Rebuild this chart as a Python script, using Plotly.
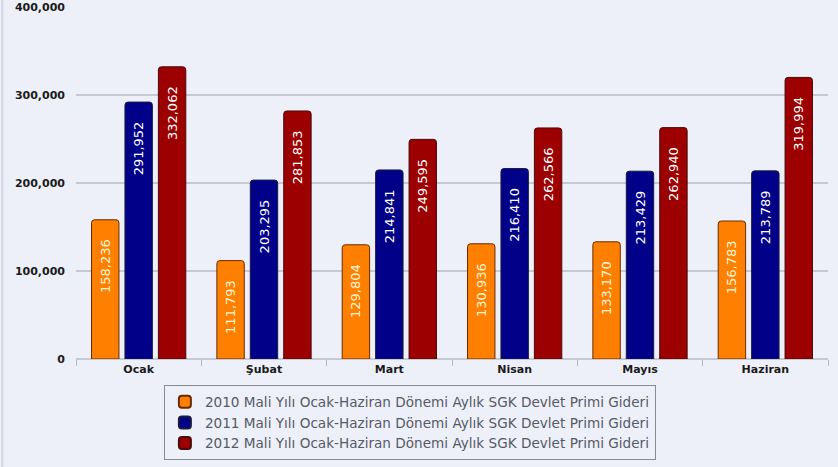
import plotly.graph_objects as go

categories = ["Ocak", "Şubat", "Mart", "Nisan", "Mayıs", "Haziran"]
series_names = [
    "2010 Mali Yılı Ocak-Haziran Dönemi Aylık SGK Devlet Primi Gideri",
    "2011 Mali Yılı Ocak-Haziran Dönemi Aylık SGK Devlet Primi Gideri",
    "2012 Mali Yılı Ocak-Haziran Dönemi Aylık SGK Devlet Primi Gideri",
]
values_2010 = [158236, 111793, 129804, 130936, 133170, 156783]
values_2011 = [291952, 203295, 214841, 216410, 213429, 213789]
values_2012 = [332062, 281853, 249595, 262566, 262940, 319994]
y_ticks = [0, 100000, 200000, 300000, 400000]

colors = ["#ff8000", "#000088", "#9c0000"]
line_colors = ["#6a2a00", "#1a1a40", "#4a0a0a"]
text_colors = ["#fff4d6", "#ffffff", "#ffffff"]

PAD = "\u00a0" * 4

fig = go.Figure()
for name, vals, c, lc, tc in zip(series_names, [values_2010, values_2011, values_2012],
                                 colors, line_colors, text_colors):
    fig.add_trace(go.Bar(
        x=categories, y=vals, name=name,
        marker=dict(color=c, line=dict(color=lc, width=1), cornerradius=3),
        text=[f"{v:,}{PAD}" for v in vals],
        textposition="inside", insidetextanchor="end", textangle=-90,
        textfont=dict(family="DejaVu Sans", size=13, color=tc),
        cliponaxis=False,
    ))

fig.update_layout(
    width=838, height=467,
    margin=dict(l=76, r=10, t=7, b=108, autoexpand=False),
    paper_bgcolor="#eef0f9", plot_bgcolor="#eef0f9",
    barmode="group", bargap=0.2, bargroupgap=0.18,
    uniformtext=dict(minsize=13, mode="show"),
    showlegend=True,
    legend=dict(
        orientation="v", x=0.444, xanchor="center", y=-0.075, yanchor="top",
        bgcolor="rgba(0,0,0,0)", bordercolor="#8a8a95", borderwidth=1,
        font=dict(family="DejaVu Sans", size=13.6, color="#555a66"),
        itemsizing="constant", tracegroupgap=0,
    ),
    font=dict(family="DejaVu Sans"),
    shapes=[dict(type="line", xref="paper", yref="paper",
                 x0=-0.098, x1=-0.098, y0=-0.31, y1=1.03,
                 line=dict(color="#d2d4de", width=2))],
)
fig.update_xaxes(
    showgrid=False, ticks="outside", tickson="boundaries", ticklen=6,
    tickcolor="#b8b8c4", showline=False, automargin=False, ticklabelstandoff=2,
    tickfont=dict(family="DejaVu Sans", size=11, color="#1a1a1a", weight="bold"),
)
fig.update_yaxes(
    range=[0, 400000], tickvals=y_ticks, tickformat=",",
    showgrid=True, gridcolor="#c6c8d2", gridwidth=1.5,
    zeroline=True, zerolinecolor="#c6c8d2", zerolinewidth=1.5,
    ticks="", ticklabelstandoff=10, automargin=False,
    tickfont=dict(family="DejaVu Sans", size=11, color="#1a1a1a", weight="bold"),
)

fig.write_html("out.html")
